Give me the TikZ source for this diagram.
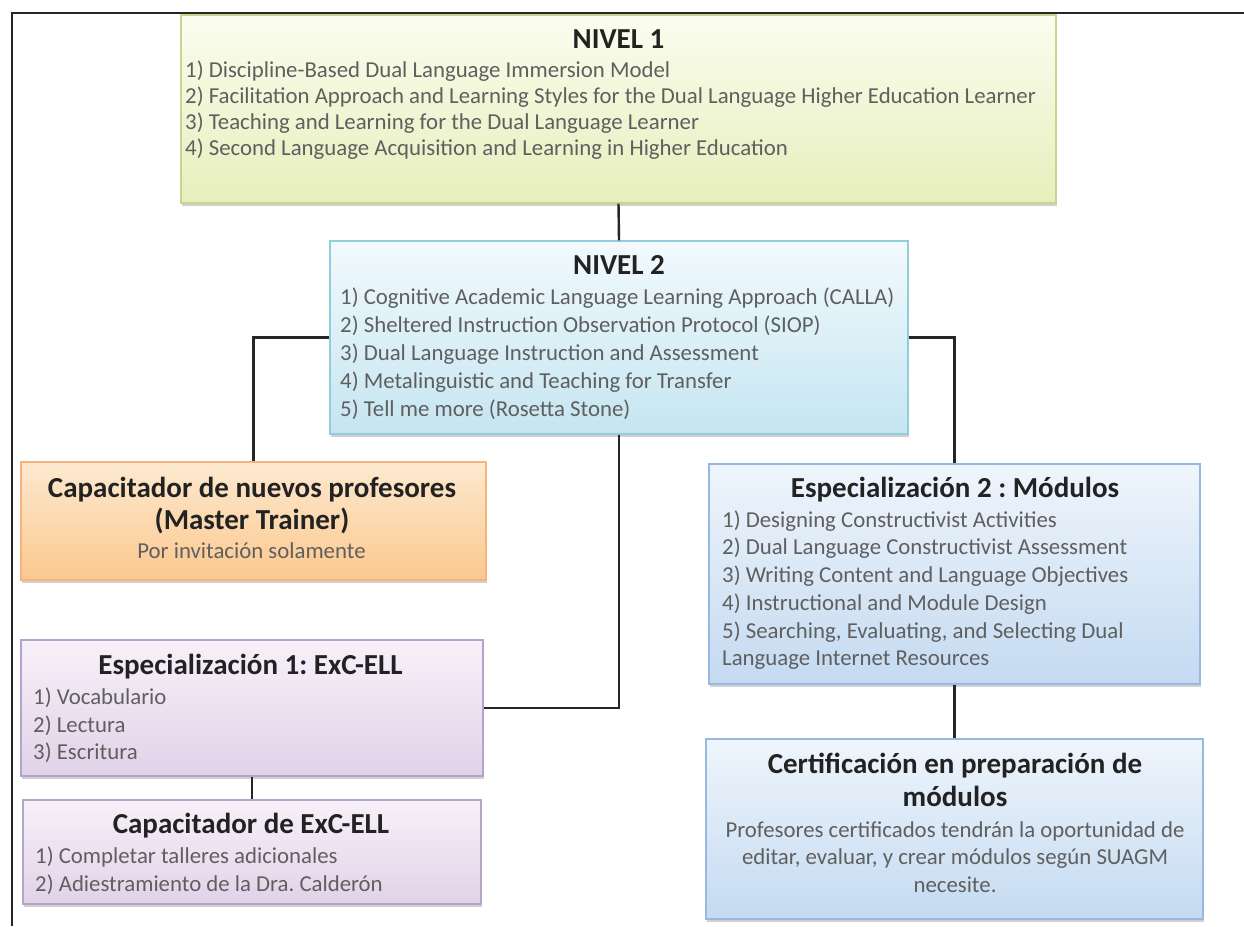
\documentclass[tikz,border=0pt]{standalone}
\usepackage{fontspec}
\setmainfont{Carlito}
\usetikzlibrary{shadows}
\frenchspacing
\definecolor{itemgray}{HTML}{5F5F5F}
\definecolor{ttlcol}{HTML}{222222}
\definecolor{linecol}{HTML}{262626}
\definecolor{grnT}{HTML}{FBFDEF}
\definecolor{grnB}{HTML}{E6EFBC}
\definecolor{grnD}{HTML}{C3D88E}
\definecolor{cyaT}{HTML}{F2FAFD}
\definecolor{cyaB}{HTML}{C5E5F1}
\definecolor{cyaD}{HTML}{92CDDF}
\definecolor{orT}{HTML}{FDE9CF}
\definecolor{orB}{HTML}{FBC88E}
\definecolor{orD}{HTML}{F6B47A}
\definecolor{puT}{HTML}{F7F1F9}
\definecolor{puB}{HTML}{E1D2E8}
\definecolor{puD}{HTML}{B5A3CA}
\definecolor{blT}{HTML}{EFF5FC}
\definecolor{blB}{HTML}{C4DAF1}
\definecolor{blD}{HTML}{98B8DE}
\begin{document}
\frenchspacing
\begin{tikzpicture}[x=1pt,y=-1pt,
  box/.style={rectangle, inner sep=0pt, line width=1.3pt,
    drop shadow={shadow xshift=1pt,shadow yshift=-2.5pt,opacity=0.3,fill=black!60}},
  grnbox/.style={box, draw=grnD, top color=grnT, bottom color=grnB},
  cyabox/.style={box, draw=cyaD, top color=cyaT, bottom color=cyaB},
  orbox/.style={box, draw=orD, top color=orT, bottom color=orB},
  pubox/.style={box, draw=puD, top color=puT, bottom color=puB},
  blbox/.style={box, draw=blD, top color=blT, bottom color=blB},
  conn/.style={draw=linecol, line width=2.4pt},
  ttl/.style={anchor=base, inner sep=0pt, text=ttlcol, font=\frenchspacing\bfseries\fontsize{29}{32}\selectfont},
  item/.style={anchor=base west, inner sep=0pt, text=itemgray, font=\frenchspacing\fontsize{22.8}{26}\selectfont},
  citem/.style={item, anchor=base}]
\useasboundingbox (0,0) rectangle (1244,926);
\fill[white] (0,0) rectangle (1244,926);
\draw[line width=2pt, draw=linecol] (12,926) -- (12,13) -- (1244,13);
% boxes
\node[grnbox, minimum width=875pt, minimum height=188pt] (n1) at (618.5,109) {};
\node[cyabox, minimum width=578pt, minimum height=193pt] (n2) at (619,337.5) {};
\node[orbox, minimum width=465pt, minimum height=118pt] (cap) at (253.5,521) {};
\node[pubox, minimum width=462pt, minimum height=136pt] (esp1) at (252,708) {};
\node[pubox, minimum width=458pt, minimum height=104pt] (capx) at (252,852) {};
\node[blbox, minimum width=491pt, minimum height=220pt] (esp2) at (954.5,574) {};
\node[blbox, minimum width=497pt, minimum height=180pt] (cert) at (954.5,829) {};
% connectors
\draw[conn] (n1.south) -- (n2.north);
\draw[conn] (n2.west) -| (cap.north);
\draw[conn] (n2.east) -| (esp2.north);
\draw[conn] (n2.south) |- (esp1.east);
\draw[conn] (esp1.south) -- (capx.north);
\draw[conn] (esp2.south) -- (cert.north);
% NIVEL 1
\node[ttl] (n1t) at (618.5,48) {NIVEL 1};
\node[item] (n1i1) at (185,77) {1) Discipline-Based Dual Language Immersion Model};
\node[item] (n1i2) at (185,103) {2) Facilitation Approach and Learning Styles for the Dual Language Higher Education Learner};
\node[item] (n1i3) at (185,129) {3) Teaching and Learning for the Dual Language Learner};
\node[item] (n1i4) at (185,155) {4) Second Language Acquisition and Learning in Higher Education};
% NIVEL 2
\node[ttl] (n2t) at (619,274) {NIVEL 2};
\node[item] (n2i1) at (340,304) {1) Cognitive Academic Language Learning Approach (CALLA)};
\node[item] (n2i2) at (340,332) {2) Sheltered Instruction Observation Protocol (SIOP)};
\node[item] (n2i3) at (340,360) {3) Dual Language Instruction and Assessment};
\node[item] (n2i4) at (340,388) {4) Metalinguistic and Teaching for Transfer};
\node[item] (n2i5) at (340,416) {5) Tell me more (Rosetta Stone)};
% Capacitador
\node[ttl] (capt1) at (252,497) {Capacitador de nuevos profesores};
\node[ttl] (capt2) at (252,529) {(Master Trainer)};
\node[citem] (capi1) at (251.5,558) {Por invitación solamente};
% Esp 1
\node[ttl] (e1t) at (250.5,674) {Especialización 1: ExC-ELL};
\node[item] (e1i1) at (33,704) {1) Vocabulario};
\node[item] (e1i2) at (33,732) {2) Lectura};
\node[item] (e1i3) at (33,759) {3) Escritura};
% Cap ExC
\node[ttl] (cxt) at (251,833) {Capacitador de ExC-ELL};
\node[item] (cxi1) at (35,863) {1) Completar talleres adicionales};
\node[item] (cxi2) at (35,891) {2) Adiestramiento de la Dra. Calderón};
% Esp 2
\node[ttl] (e2t) at (955,497) {Especialización 2 : Módulos};
\node[item] (e2i1) at (722,527) {1) Designing Constructivist Activities};
\node[item] (e2i2) at (722,554) {2) Dual Language Constructivist Assessment};
\node[item] (e2i3) at (722,582) {3) Writing Content and Language Objectives};
\node[item] (e2i4) at (722,610) {4) Instructional and Module Design};
\node[item] (e2i5) at (722,638) {5) Searching, Evaluating, and Selecting Dual};
\node[item] (e2i6) at (722,665) {Language Internet Resources};
% Cert
\node[ttl] (ct1) at (955,773) {Certificación en preparación de};
\node[ttl] (ct2) at (955,806) {módulos};
\node[citem] (ci1) at (955,837) {Profesores certificados tendrán la oportunidad de};
\node[citem] (ci2) at (955,864) {editar, evaluar, y crear módulos según SUAGM};
\node[citem] (ci3) at (955,892) {necesite.};
\end{tikzpicture}
\end{document}
